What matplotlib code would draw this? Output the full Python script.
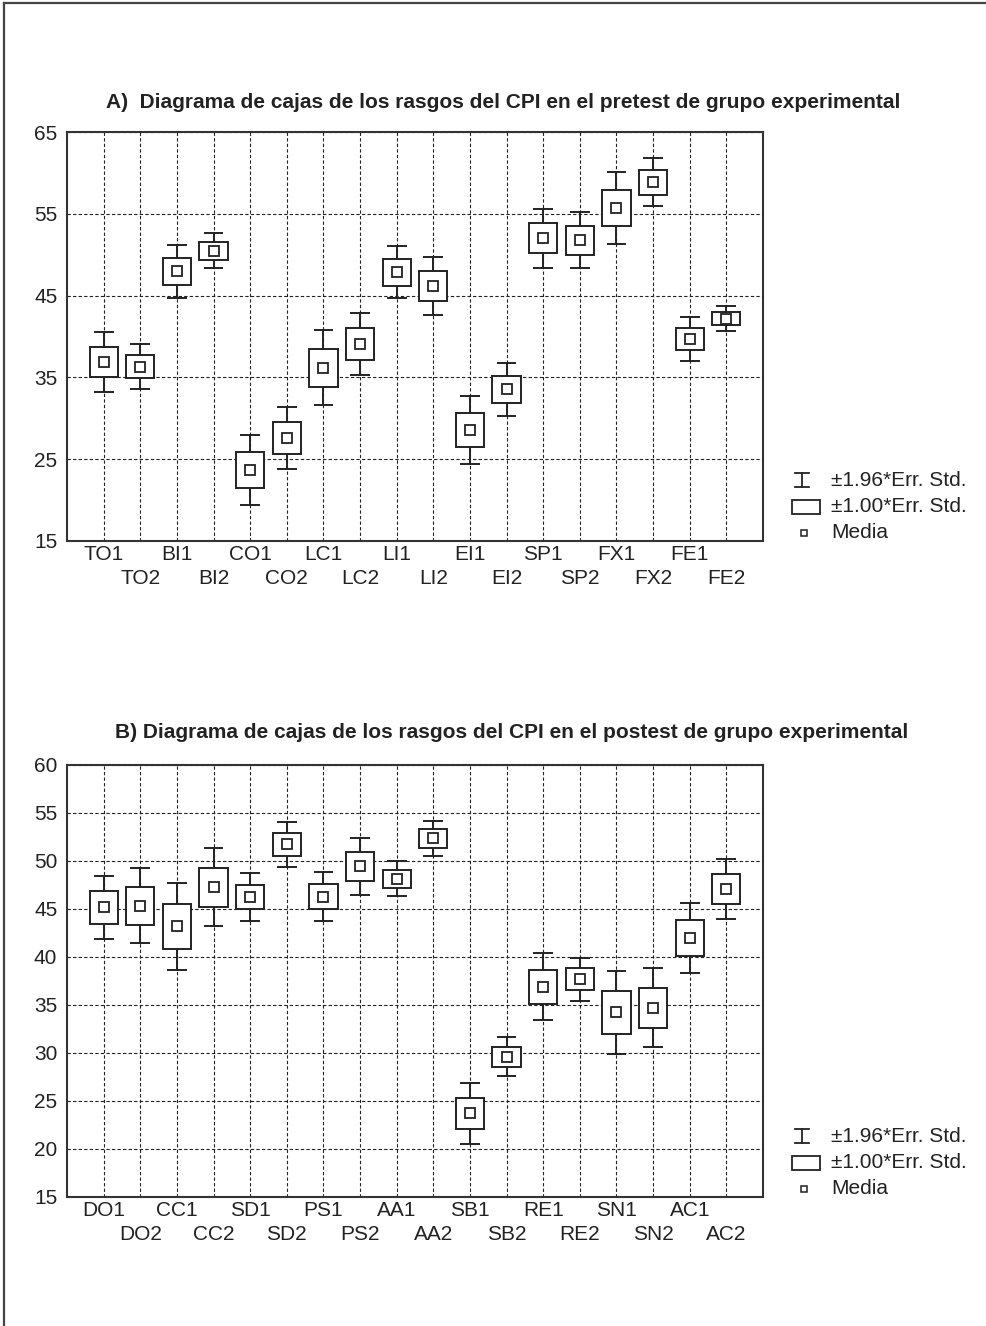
import numpy as np
import matplotlib.pyplot as plt
from matplotlib.patches import Rectangle

plt.rcParams['font.family'] = ['Liberation Sans', 'DejaVu Sans']

# Panel A: pretest
names_a = ["TO1", "TO2", "BI1", "BI2", "CO1", "CO2", "LC1", "LC2", "LI1",
           "LI2", "EI1", "EI2", "SP1", "SP2", "FX1", "FX2", "FE1", "FE2"]
mean_a = [36.9, 36.3, 48.0, 50.5, 23.67, 27.6, 36.2, 39.1, 47.85,
          46.15, 28.55, 33.55, 52.0, 51.75, 55.7, 58.85, 39.7, 42.2]
se_a = [1.85, 1.4, 1.65, 1.1, 2.17, 1.96, 2.32, 1.95, 1.62,
        1.8, 2.1, 1.65, 1.82, 1.75, 2.25, 1.5, 1.37, 0.76]

# Panel B: postest
names_b = ["DO1", "DO2", "CC1", "CC2", "SD1", "SD2", "PS1", "PS2", "AA1",
           "AA2", "SB1", "SB2", "RE1", "RE2", "SN1", "SN2", "AC1", "AC2"]
mean_b = [45.17, 45.35, 43.2, 47.25, 46.25, 51.75, 46.3, 49.45, 48.15,
          52.35, 23.72, 29.62, 36.92, 37.68, 34.22, 34.7, 42.0, 47.08]
se_b = [1.69, 1.98, 2.32, 2.07, 1.25, 1.2, 1.3, 1.52, 0.92,
        0.95, 1.62, 1.05, 1.77, 1.13, 2.2, 2.1, 1.87, 1.58]

title_a = "A)  Diagrama de cajas de los rasgos del CPI en el pretest de grupo experimental"
title_b = "B) Diagrama de cajas de los rasgos del CPI en el postest de grupo experimental"
legend_labels = ["\u00b11.96*Err. Std.", "\u00b11.00*Err. Std.", "Media"]

W, H = 987, 1326
FS = 15


def draw(ax, names, mean, se, yticks):
    x = np.arange(1, len(names) + 1)
    mean = np.array(mean)
    se = np.array(se)
    ax.vlines(x, mean - 1.96 * se, mean + 1.96 * se, color="#222222", lw=1.4, zorder=3)
    ax.hlines(mean - 1.96 * se, x - 0.27, x + 0.27, color="#222222", lw=1.4, zorder=3)
    ax.hlines(mean + 1.96 * se, x - 0.27, x + 0.27, color="#222222", lw=1.4, zorder=3)
    ax.bar(x, 2 * se, bottom=mean - se, width=0.77, facecolor="white",
           edgecolor="#222222", linewidth=1.4, zorder=4)
    ax.plot(x, mean, "s", ms=6.5, mfc="white", mec="#222222", mew=1.3, zorder=5)

    ax.set_xlim(0, len(names) + 1)
    ax.set_ylim(yticks[0], yticks[-1])
    ax.set_yticks(yticks)
    ax.set_xticks(x[::2], names[::2])
    ax.set_xticks(x[1::2], names[1::2], minor=True)
    ax.tick_params(axis="both", which="both", length=0, labelsize=FS, colors="#222222")
    ax.tick_params(axis="x", which="major", pad=3)
    ax.tick_params(axis="x", which="minor", pad=20)
    ax.tick_params(axis="y", pad=7)
    ax.grid(True, which="both", color="#222222", lw=0.8, ls=(0, (3, 2)))
    ax.set_axisbelow(True)
    for s in ax.spines.values():
        s.set_color("#333333")
        s.set_linewidth(1.5)


fig = plt.figure(figsize=(W / 100, H / 100), dpi=100)

ax_a = fig.add_axes([67 / W, 1 - 541 / H, 696 / W, 409 / H])
ax_b = fig.add_axes([67 / W, 1 - 1197 / H, 696 / W, 432 / H])
draw(ax_a, names_a, mean_a, se_a, np.arange(15, 66, 10))
draw(ax_b, names_b, mean_b, se_b, np.arange(15, 61, 5))

fig.text(503 / W, 1 - 102 / H, title_a, ha="center", va="center",
         fontsize=15, fontweight="bold", color="#222222")
fig.text(512 / W, 1 - 733 / H, title_b, ha="center", va="center",
         fontsize=15, fontweight="bold", color="#222222")

# overlay in pixel coordinates for legends and page frame
ov = fig.add_axes([0, 0, 1, 1], zorder=10)
ov.set_xlim(0, W)
ov.set_ylim(H, 0)
ov.axis("off")
ov.plot([4, W], [3, 3], color="#444444", lw=1.6)
ov.plot([4, 4], [3, H], color="#444444", lw=1.6)

for base in (541, 1197):
    ys = [base - 61, base - 34, base - 8]
    y0 = ys[0]
    ov.plot([802, 802], [y0 - 7, y0 + 7], color="#222222", lw=1.3)
    ov.plot([795, 809], [y0 - 7, y0 - 7], color="#222222", lw=1.3)
    ov.plot([795, 809], [y0 + 7, y0 + 7], color="#222222", lw=1.3)
    ov.add_patch(Rectangle((792, ys[1] - 7), 28, 14, facecolor="white",
                           edgecolor="#222222", lw=1.3))
    ov.plot([804], [ys[2]], "s", ms=4.5, mfc="white", mec="#222222", mew=1.1)
    for yy, lab in zip(ys, legend_labels):
        ov.text(831, yy, lab, ha="left", va="center", fontsize=FS, color="#222222")

fig.savefig("out.png", dpi=100)
